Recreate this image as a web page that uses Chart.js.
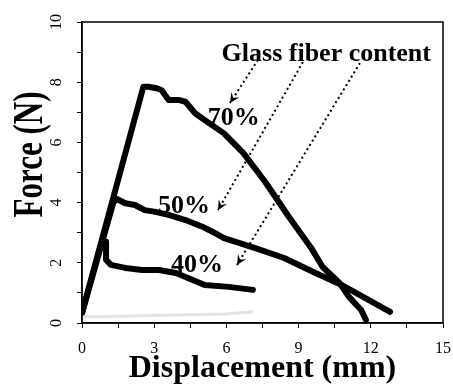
<!DOCTYPE html>
<html>
<head>
<meta charset="utf-8">
<script src="https://cdn.jsdelivr.net/npm/chart.js@4"></script>
<style>
  html, body { margin: 0; padding: 0; background: #fff; }
  #wrap { width: 453px; height: 385px; }
</style>
</head>
<body>
<div id="wrap"><canvas id="chart"></canvas></div>
<script>
// displacement (mm) / force (N)
const disp70 = [0, 2.55, 2.75, 3.1, 3.3, 3.6, 4.0, 4.3, 4.7, 5.1, 5.9, 6.7, 7.6, 8.6, 9.5, 10.0, 10.7, 11.1, 11.6, 11.8];
const force70 = [0.33, 7.85, 7.85, 7.8, 7.74, 7.41, 7.41, 7.35, 6.97, 6.74, 6.3, 5.65, 4.7, 3.52, 2.52, 1.86, 1.33, 0.86, 0.43, 0.1];

const disp50 = [0, 1.3, 1.45, 1.8, 2.2, 2.6, 3.0, 3.6, 4.3, 5.0, 5.5, 5.9, 7.2, 8.4, 9.7, 10.8, 11.7, 12.8];
const force50 = [0.33, 4.0, 4.12, 3.98, 3.92, 3.75, 3.7, 3.59, 3.42, 3.2, 3.0, 2.82, 2.49, 2.16, 1.66, 1.26, 0.86, 0.37];

const disp40 = [1.0, 1.0, 1.2, 1.8, 2.5, 3.2, 3.9, 4.6, 5.1, 6.1, 7.1];
const force40 = [2.7, 2.1, 1.93, 1.83, 1.76, 1.76, 1.66, 1.43, 1.26, 1.2, 1.1];

// faint trace along the bottom
const dispBase = [0, 5.9, 7.1];
const forceBase = [0.2, 0.3, 0.37];

// annotation text and arrows, in data units
const contentLabels = ['70%', '50%', '40%'];
const labelX = [6.31, 4.24, 4.78];
const labelY = [6.58, 3.65, 1.69];
const headerText = 'Glass fiber content';
const headerX = 10.15, headerY = 8.7;
const arrowFrom = [[7.31, 8.74], [9.18, 8.67], [11.55, 8.64]];
const arrowTo = [[6.15, 7.31], [5.65, 3.75], [6.44, 1.93]];
const yTitle = 'Force (N)';

const toPoints = (xs, ys) => xs.map((v, i) => ({ x: v, y: ys[i] }));
const serif = '"Liberation Serif", "Times New Roman", serif';

function arrowHead(ctx, x0, y0, x1, y1) {
  const ang = Math.atan2(y1 - y0, x1 - x0);
  const len = 11, wing = 0.45;
  ctx.beginPath();
  ctx.moveTo(x1, y1);
  ctx.lineTo(x1 - len * Math.cos(ang - wing), y1 - len * Math.sin(ang - wing));
  ctx.lineTo(x1 - len * 0.55 * Math.cos(ang), y1 - len * 0.55 * Math.sin(ang));
  ctx.lineTo(x1 - len * Math.cos(ang + wing), y1 - len * Math.sin(ang + wing));
  ctx.closePath();
  ctx.fill();
}

const annotate = {
  id: 'annotate',
  afterDatasetsDraw(chart) {
    const { ctx, chartArea: a, scales: { x, y } } = chart;
    ctx.save();
    // frame
    ctx.strokeStyle = '#000';
    ctx.lineWidth = 1.5;
    ctx.strokeRect(a.left, a.top, a.right - a.left, a.bottom - a.top);

    // dotted arrows
    ctx.fillStyle = '#000';
    arrowFrom.forEach((p, i) => {
      const x0 = x.getPixelForValue(p[0]), y0 = y.getPixelForValue(p[1]);
      const x1 = x.getPixelForValue(arrowTo[i][0]), y1 = y.getPixelForValue(arrowTo[i][1]);
      ctx.setLineDash([2, 3]);
      ctx.lineWidth = 2;
      ctx.beginPath();
      ctx.moveTo(x0, y0);
      ctx.lineTo(x1, y1);
      ctx.stroke();
      ctx.setLineDash([]);
      arrowHead(ctx, x0, y0, x1, y1);
    });

    // texts
    ctx.font = 'bold 26px ' + serif;
    ctx.textAlign = 'center';
    ctx.textBaseline = 'alphabetic';
    ctx.fillText(headerText, x.getPixelForValue(headerX), y.getPixelForValue(headerY));
    contentLabels.forEach((t, i) => {
      ctx.fillText(t, x.getPixelForValue(labelX[i]), y.getPixelForValue(labelY[i]));
    });

    // y title: sits a bit above centre and is drawn wide, like the original
    ctx.translate(a.left - 40, y.getPixelForValue(5.6));
    ctx.rotate(-Math.PI / 2);
    ctx.scale(1, 1.37);
    ctx.font = 'bold 31px ' + serif;
    ctx.fillText(yTitle, 0, 0);
    ctx.restore();
  }
};

const lineStyle = {
  borderColor: '#000',
  borderWidth: 6,
  pointRadius: 0,
  tension: 0,
  borderJoinStyle: 'round',
  borderCapStyle: 'round',
  fill: false
};

new Chart(document.getElementById('chart'), {
  type: 'line',
  data: {
    datasets: [
      { label: 'base', data: toPoints(dispBase, forceBase), borderColor: '#e2e2e2', borderWidth: 3, pointRadius: 0 },
      { label: '70%', data: toPoints(disp70, force70), ...lineStyle },
      { label: '50%', data: toPoints(disp50, force50), ...lineStyle },
      { label: '40%', data: toPoints(disp40, force40), ...lineStyle }
    ]
  },
  options: {
    responsive: true,
    maintainAspectRatio: false,
    animation: false,
    layout: { padding: { top: 22, right: 10, left: 12, bottom: 0 } },
    plugins: {
      legend: { display: false },
      tooltip: { enabled: false }
    },
    scales: {
      x: {
        type: 'linear',
        min: 0,
        max: 15,
        afterFit: s => { s.height = 62; s.paddingLeft = 0; s.paddingRight = 0; },
        border: { color: '#000', width: 1.5 },
        grid: { drawOnChartArea: false, color: '#000', tickLength: 5 },
        ticks: {
          stepSize: 1.5,
          autoSkip: false,
          maxRotation: 0,
          padding: 11,
          color: '#000',
          font: { family: serif, size: 16 },
          callback: v => (v % 3 === 0 ? String(v) : '')
        },
        title: {
          display: true,
          text: 'Displacement (mm)',
          color: '#000',
          font: { family: serif, size: 32, weight: 'bold' },
          padding: { top: 0, bottom: -3.2 }
        }
      },
      y: {
        min: 0,
        max: 10,
        afterFit: s => { s.width = 70; s.paddingTop = 0; s.paddingBottom = 0; },
        border: { color: '#000', width: 1.5 },
        grid: { drawOnChartArea: false, color: '#000', tickLength: 5 },
        ticks: {
          stepSize: 1,
          autoSkip: false,
          minRotation: 90,
          maxRotation: 90,
          crossAlign: 'center',
          padding: 12,
          color: '#000',
          font: { family: serif, size: 16 },
          callback: v => (v % 2 === 0 ? String(v) : '')
        },
        title: { display: false }
      }
    }
  },
  plugins: [annotate]
});
</script>
</body>
</html>
